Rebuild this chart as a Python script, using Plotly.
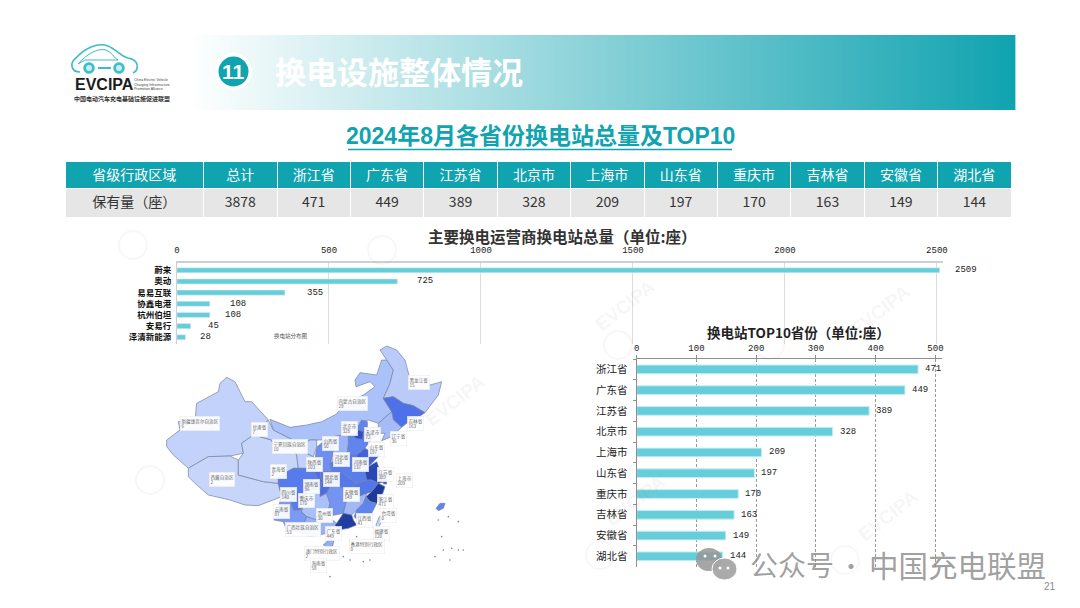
import numpy as np
import plotly.graph_objects as go

CJK = "Noto Sans CJK SC"
MONO = "Liberation Mono"
TEAL = "#10a3b0"
BAR = "#66cdda"

# ---------- data ----------
table_headers = ["省级行政区域", "总计", "浙江省", "广东省", "江苏省", "北京市", "上海市", "山东省", "重庆市", "吉林省", "安徽省", "湖北省"]
table_values = ["保有量（座）", "3878", "471", "449", "389", "328", "209", "197", "170", "163", "149", "144"]

operators = ["蔚来", "奥动", "易易互联", "协鑫电港", "杭州伯坦", "安易行", "泽清新能源"]
operator_values = [2509, 725, 355, 108, 108, 45, 28]
operator_label_shift = [13, 18, 20, 18, 13, 15, 12]

top_provinces = ["浙江省", "广东省", "江苏省", "北京市", "上海市", "山东省", "重庆市", "吉林省", "安徽省", "湖北省"]
top_values = [471, 449, 389, 328, 209, 197, 170, 163, 149, 144]

map_names = ["新疆维吾尔自治区", "西藏自治区", "青海省", "甘肃省", "内蒙古自治区", "黑龙江省", "吉林省", "辽宁省",
             "河北省", "北京市", "山西省", "陕西省", "宁夏回族自治区", "四川省", "重庆市", "贵州省", "云南省",
             "广西壮族自治区", "湖南省", "湖北省", "河南省", "山东省", "江苏省", "上海市", "安徽省", "浙江省",
             "江西省", "福建省", "广东省", "台湾省", "海南省"]
map_values = [6, 2, 2, 7, 29, 15, 163, 36, 118, 328, 50, 103, 10, 140, 170, 30, 87, 53, 96, 144, 137, 197, 389, 209,
              149, 471, 41, 120, 449, 0, 58]
map_outlines = [
    [(110,300),(130,285),(150,270),(145,245),(195,240),(200,190),(265,155),(270,130),(290,112),(315,125),(330,155),(345,185),(365,185),(415,240),(370,285),(335,310),(340,340),(300,348),(235,350),(175,385),(130,345),(110,320)],
    [(175,385),(235,350),(300,348),(325,360),(325,405),(400,425),(445,430),(455,470),(385,497),(345,495),(300,480),(235,465),(195,430),(175,410)],
    [(335,310),(370,285),(425,300),(430,315),(490,330),(500,345),(505,385),(490,385),(445,410),(445,430),(400,425),(325,405),(325,360),(340,340)],
    [(415,240),(430,270),(490,300),(500,300),(520,310),(530,340),(550,350),(555,360),(530,385),(505,385),(500,345),(490,330),(430,315),(425,300),(370,285)],
    [(420,238),(480,262),(530,255),(575,245),(620,222),(640,195),(700,165),(735,140),(720,125),(678,140),(675,120),(690,98),(740,105),(755,60),(770,60),(790,90),(780,130),(760,175),(785,215),(745,250),(715,240),(700,245),(670,270),(640,285),(610,290),(585,300),(560,300),(540,300),(520,310),(500,300),(490,300),(430,270)],
    [(750,30),(770,18),(800,30),(825,60),(838,110),(900,135),(935,125),(925,165),(885,218),(850,197),(820,190),(790,170),(760,175),(780,130),(790,90),(770,60)],
    [(760,175),(790,170),(820,190),(850,197),(885,218),(860,235),(830,250),(815,262),(790,240),(785,215)],
    [(745,250),(785,215),(790,240),(815,262),(785,290),(755,302),(765,280),(745,280)],
    [(650,285),(672,280),(695,240),(712,245),(712,270),(740,285),(715,310),(705,325),(680,345),(650,345),(655,310)],
    [(672,290),(685,270),(700,275),(698,298),(680,296)],
    [(610,290),(640,285),(655,285),(655,310),(650,345),(600,370),(610,330)],
    [(560,322),(585,300),(610,290),(610,330),(600,370),(605,395),(570,395),(548,385),(530,385),(555,360)],
    [(520,310),(540,300),(560,300),(560,322),(550,350),(530,340)],
    [(445,410),(490,385),(505,385),(530,385),(548,385),(560,410),(575,430),(570,450),(540,450),(520,470),(510,510),(490,510),(480,480),(455,470),(445,430)],
    [(548,385),(570,395),(575,420),(605,430),(590,460),(570,470),(570,450),(575,430),(560,410)],
    [(520,470),(540,450),(570,450),(570,470),(590,460),(600,490),(590,530),(560,540),(530,530),(515,515)],
    [(455,470),(480,480),(490,510),(510,510),(520,470),(515,515),(530,530),(520,555),(470,570),(460,545),(432,540),(445,500)],
    [(530,530),(560,540),(590,530),(615,545),(625,555),(590,580),(540,590),(500,575),(470,570),(520,555)],
    [(605,430),(640,445),(650,480),(640,520),(615,525),(590,530),(600,490),(590,460)],
    [(570,395),(605,395),(640,400),(680,430),(660,445),(640,445),(605,430),(575,420)],
    [(600,370),(650,345),(680,345),(680,365),(715,380),(705,395),(710,420),(680,430),(640,400),(605,395)],
    [(680,345),(705,325),(740,345),(755,340),(715,380),(680,365)],
    [(715,380),(740,365),(755,405),(765,425),(745,430),(725,420),(710,420),(705,395)],
    [(760,420),(770,418),(770,432),(760,432)],
    [(680,430),(710,420),(725,420),(745,430),(725,455),(710,460),(685,470),(670,450),(660,445)],
    [(725,455),(745,430),(765,440),(755,470),(740,490),(720,485),(708,470)],
    [(640,445),(660,445),(670,450),(685,470),(710,460),(708,470),(700,490),(680,510),(665,525),(640,520),(650,480)],
    [(708,470),(720,485),(740,490),(725,520),(690,545),(672,530),(680,510),(700,490)],
    [(620,550),(640,520),(665,525),(670,540),(680,555),(655,565),(625,570),(615,555)],
    [(738,555),(748,530),(755,530),(750,555),(742,565)],
    [(580,615),(600,595),(612,600),(608,618),(590,622)],
]
extra_island = [(918,505),(930,490),(945,490),(940,505),(925,512)]
sea_marks_x = [925,955,985,935,915,940,965,985,1000,960,600,640,660,700,720,680]
sea_marks_y = [540,530,545,590,650,630,625,630,630,660,710,650,660,665,660,590]

label_names = ["新疆维吾尔自治区", "甘肃省", "宁夏回族自治区", "内蒙古自治区", "黑龙江省", "吉林省", "辽宁省", "北京市", "天津市",
               "山西省", "河北省", "山东省", "陕西省", "河南省", "江苏省", "上海市", "湖北省", "安徽省", "湖南省", "四川省", "重庆市",
               "青海省", "西藏自治区", "云南省", "贵州省", "江西省", "浙江省", "福建省", "广西壮族自治区", "广东省", "台湾省",
               "香港特别行政区", "澳门特别行政区", "海南省"]
label_values = [6, 7, 10, 29, 15, 163, 36, 328, 72, 50, 118, 197, 103, 137, 389, 209, 144, 149, 96, 140, 170, 2, 2, 87,
                30, 41, 471, 120, 53, 449, 0, 0, 2, 58]
label_x = [150,363,427,622,835,830,780,632,702,577,610,715,528,667,741,798,580,640,520,449,505,420,238,428,557,678,740,728,465,585,750,657,522,540]
label_y = [228,245,298,168,105,228,272,243,260,287,335,305,352,352,380,398,395,440,418,442,458,373,395,492,505,518,462,558,547,558,505,597,617,655]

scale_stops = [0, 30, 60, 120, 170, 210, 400, 480]
scale_r = [201, 170, 148, 95, 75, 62, 40, 28]
scale_g = [214, 192, 172, 132, 110, 92, 70, 55]
scale_b = [251, 250, 247, 238, 232, 220, 180, 150]


def map_color(v):
    r = np.interp(v, scale_stops, scale_r)
    g = np.interp(v, scale_stops, scale_g)
    b = np.interp(v, scale_stops, scale_b)
    return f"rgb({r:.0f},{g:.0f},{b:.0f})"


W, H = 1080, 608
fx = lambda a, b: [a / W, b / W]
fy = lambda top, bottom: [(H - bottom) / H, (H - top) / H]

fig = go.Figure()

fig.add_trace(go.Heatmap(z=[np.linspace(0, 1, 256).tolist()], x0=190, dx=(1014 - 190) / 255, y0=72.5, dy=75,
                         zsmooth="best", showscale=False, zmin=0, zmax=1, hoverinfo="skip",
                         colorscale=[[0, "#ffffff"], [1, TEAL]], xaxis="x3", yaxis="y3"))

fig.add_trace(go.Bar(y=operators, x=operator_values, orientation="h", marker=dict(color=BAR), xaxis="x", yaxis="y",
                     hoverinfo="skip", width=0.45))
fig.add_trace(go.Bar(y=top_provinces, x=top_values, orientation="h",
                     marker=dict(color=BAR, line=dict(color="#c4eef2", width=1)), xaxis="x2", yaxis="y2",
                     hoverinfo="skip", width=0.42))

for name, val, outline in zip(map_names, map_values, map_outlines):
    xs = [p[0] for p in outline] + [outline[0][0]]
    ys = [p[1] for p in outline] + [outline[0][1]]
    fig.add_trace(go.Scatter(x=xs, y=ys, mode="lines", fill="toself", fillcolor=map_color(val), name=name,
                             line=dict(color="#76839c", width=0.7), xaxis="x4", yaxis="y4", hoverinfo="skip"))
fig.add_trace(go.Scatter(x=[p[0] for p in extra_island] + [extra_island[0][0]],
                         y=[p[1] for p in extra_island] + [extra_island[0][1]], mode="lines", fill="toself",
                         fillcolor=map_color(120), line=dict(color="#76839c", width=0.7), xaxis="x4", yaxis="y4",
                         hoverinfo="skip"))
fig.add_trace(go.Scatter(x=sea_marks_x, y=sea_marks_y, mode="markers", marker=dict(size=1.6, color="#7b8394"),
                         xaxis="x4", yaxis="y4", hoverinfo="skip"))

col_w = [139] + [73.6] * 11
fig.add_trace(go.Table(
    domain=dict(x=fx(65, 1012), y=fy(161, 226)), columnwidth=col_w,
    header=dict(values=table_headers, fill_color=TEAL, line_color="#ffffff", height=27, align="center",
                font=dict(family=CJK, size=14, color="#ffffff")),
    cells=dict(values=[[v] for v in table_values], fill_color="#e6e6e6", line_color="#ffffff", height=29,
               align="center", font=dict(family=CJK, size=14, color="#333333"))))

ann = []
shapes = []


def px_text(x, y, text, size, color="#333333", family=CJK, anchor="center", bold=False, angle=0, **kw):
    ann.append(dict(x=x, y=y, xref="x3", yref="y3", text=text, showarrow=False, xanchor=anchor, yanchor="middle",
                    textangle=angle, font=dict(family=family, size=size, color=color, weight=700 if bold else 400),
                    **kw))


for (wx, wy) in [(635, 500), (888, 515), (625, 305), (880, 310), (455, 400)]:
    px_text(wx, wy, "EVCIPA", 19, color="rgba(120,120,120,0.08)", family="Liberation Sans", bold=True, angle=-38)
for (cx, cy) in [(133, 245), (382, 250), (618, 345), (770, 345), (600, 555), (845, 560), (150, 480), (345, 480)]:
    shapes.append(dict(type="circle", xref="x3", yref="y3", x0=cx - 14, x1=cx + 14, y0=cy - 14, y1=cy + 14,
                       line=dict(color="rgba(120,120,120,0.06)", width=2), layer="below"))

shapes.append(dict(type="path", xref="x3", yref="y3",
                   path="M 80,72 C 70,72 70,62 76,58 C 85,48 98,42 108,46 C 116,49 120,56 128,58 C 135,59 138,63 137,68 C 137,71 135,72 133,73",
                   line=dict(color="#3dbdc5", width=1.6)))
shapes.append(dict(type="path", xref="x3", yref="y3",
                   path="M 78,64 C 88,53 98,48 106,50 C 112,52 114,58 118,60 L 85,60 Z",
                   line=dict(color="#3dbdc5", width=1)))
for cx in (89, 119):
    shapes.append(dict(type="circle", xref="x3", yref="y3", x0=cx - 5.5, x1=cx + 5.5, y0=62.5, y1=73.5,
                       fillcolor="#3dbdc5", line=dict(color="#3dbdc5", width=0.5)))
    shapes.append(dict(type="circle", xref="x3", yref="y3", x0=cx - 3, x1=cx + 3, y0=65, y1=71,
                       fillcolor="#c7eef0", line=dict(width=0)))
shapes.append(dict(type="line", xref="x3", yref="y3", x0=98, x1=111, y0=68, y1=68, line=dict(color="#3dbdc5", width=2)))
px_text(73, 84.5, "EVCIPA", 16, color="#1c1c1c", family="Liberation Sans", anchor="left", bold=True)
px_text(132, 84.5, "China Electric Vehicle<br>Charging Infrastructure<br>Promotion Alliance", 3.5, color="#444444",
        family="Liberation Sans", anchor="left", align="left")
px_text(122, 98, "中国电动汽车充电基础设施促进联盟", 6, color="#333333", bold=True)

shapes.append(dict(type="circle", xref="x3", yref="y3", x0=215, x1=252, y0=53, y1=90, fillcolor="#ffffff",
                   line=dict(width=0)))
shapes.append(dict(type="circle", xref="x3", yref="y3", x0=218.5, x1=248.5, y0=56.5, y1=86.5, fillcolor=TEAL,
                   line=dict(width=0)))
px_text(233.5, 71, "11", 21, color="#ffffff", family="Liberation Sans", bold=True)
px_text(399, 70, "换电设施整体情况", 31, color="#ffffff", bold=True)
px_text(540, 136, "2024年8月各省份换电站总量及TOP10", 23, color=TEAL, family="Liberation Sans, " + CJK, bold=True)
shapes.append(dict(type="line", xref="x3", yref="y3", x0=348, x1=732, y0=149.5, y1=149.5,
                   line=dict(color=TEAL, width=1.5)))
px_text(562, 236, "主要换电运营商换电站总量（单位:座）", 15.5, color="#333333", bold=True)
px_text(798, 332, "换电站TOP10省份（单位:座）", 13.5, color="#222222", bold=True)
px_text(291, 336, "换电站分布图", 5.5, color="#555555")

for name, val, shift in zip(operators, operator_values, operator_label_shift):
    ann.append(dict(x=val, y=name, xref="x", yref="y", text=str(val), showarrow=False, xanchor="left", xshift=shift,
                    font=dict(family=MONO, size=9, color="#222222")))
for name, val in zip(top_provinces, top_values):
    ann.append(dict(x=val, y=name, xref="x2", yref="y2", text=str(val), showarrow=False, xanchor="left", xshift=5,
                    font=dict(family=MONO, size=9, color="#222222")))

for name, val, lx, ly in zip(label_names, label_values, label_x, label_y):
    ann.append(dict(x=lx, y=ly, xref="x4", yref="y4", text=f"{name}<br>{val}", showarrow=False, xanchor="left",
                    yanchor="top", align="left", bgcolor="rgba(255,255,255,0.92)", bordercolor="#e8e8e8",
                    borderwidth=0.5, borderpad=1, font=dict(family=CJK, size=4.6, color="#666666")))

shapes.append(dict(type="circle", xref="x3", yref="y3", x0=696, x1=722, y0=548, y1=571, fillcolor="rgba(150,150,150,0.85)",
                   line=dict(width=0)))
shapes.append(dict(type="circle", xref="x3", yref="y3", x0=712, x1=737, y0=558, y1=580, fillcolor="rgba(165,165,165,0.95)",
                   line=dict(color="#ffffff", width=1)))
for cx, cy in [(705, 556), (715, 556), (720, 568), (728, 568)]:
    shapes.append(dict(type="circle", xref="x3", yref="y3", x0=cx - 1.5, x1=cx + 1.5, y0=cy - 1.5, y1=cy + 1.5,
                       fillcolor="#ffffff", line=dict(width=0)))
px_text(748, 564, "公众号", 28, color="rgba(135,135,135,0.8)", anchor="left")
px_text(851, 564, "·", 24, color="rgba(135,135,135,0.8)")
px_text(867, 564, "中国充电联盟", 29.5, color="rgba(135,135,135,0.8)", anchor="left")
px_text(1050, 586, "21", 10, color="#8a8a8a", family="Liberation Sans")

hidden = dict(visible=False, showgrid=False, zeroline=False, fixedrange=True)
fig.update_layout(
    width=W, height=H, margin=dict(l=0, r=0, t=0, b=0, pad=0, autoexpand=False), paper_bgcolor="#ffffff",
    plot_bgcolor="rgba(0,0,0,0)", showlegend=False, barmode="overlay", annotations=ann, shapes=shapes,
    xaxis=dict(domain=fx(177, 943), range=[0, 2520], side="top", anchor="y", tick0=0, dtick=500, showgrid=True,
               gridcolor="#dcdcdc", gridwidth=1, zeroline=False, showline=True, linecolor="#cfcfcf", linewidth=2,
               ticks="", tickfont=dict(family=MONO, size=9, color="#222222"), ticklabelstandoff=5),
    yaxis=dict(domain=fy(263.3, 344.3), type="category", autorange="reversed", anchor="x", showgrid=False,
               zeroline=False, showline=True, linecolor="#cfcfcf", linewidth=1, ticks="",
               tickfont=dict(family=CJK, size=8.5, color="#111111", weight=700), ticklabelstandoff=3),
    xaxis2=dict(domain=fx(636.7, 942), range=[0, 511], side="top", anchor="y2", tick0=0, dtick=100, showgrid=True,
                gridcolor="#9a9a9a", griddash="3px,2px", gridwidth=1, zeroline=False, showline=True,
                linecolor="#8f8f8f", linewidth=1, ticks="outside", ticklen=3, tickcolor="#8f8f8f",
                tickfont=dict(family=MONO, size=9, color="#222222")),
    yaxis2=dict(domain=fy(359, 566.7), type="category", autorange="reversed", anchor="x2", showgrid=False,
                zeroline=False, showline=True, linecolor="#8f8f8f", linewidth=1, ticks="outside", ticklen=3,
                tickcolor="#8f8f8f", tickson="boundaries", tickfont=dict(family=CJK, size=10.5, color="#222222"),
                ticklabelstandoff=6),
    xaxis3=dict(domain=[0, 1], range=[0, W], anchor="y3", **hidden),
    yaxis3=dict(domain=[0, 1], range=[H, 0], anchor="x3", **hidden),
    xaxis4=dict(domain=fx(130, 470), range=[0, 1020], anchor="y4", **hidden),
    yaxis4=dict(domain=fy(340, 580), range=[720, 0], anchor="x4", **hidden),
    bargap=0.55,
)

fig.write_html("out.html", config=dict(displayModeBar=False),
               post_script="document.body.style.margin='0';document.documentElement.style.overflow='hidden';")
